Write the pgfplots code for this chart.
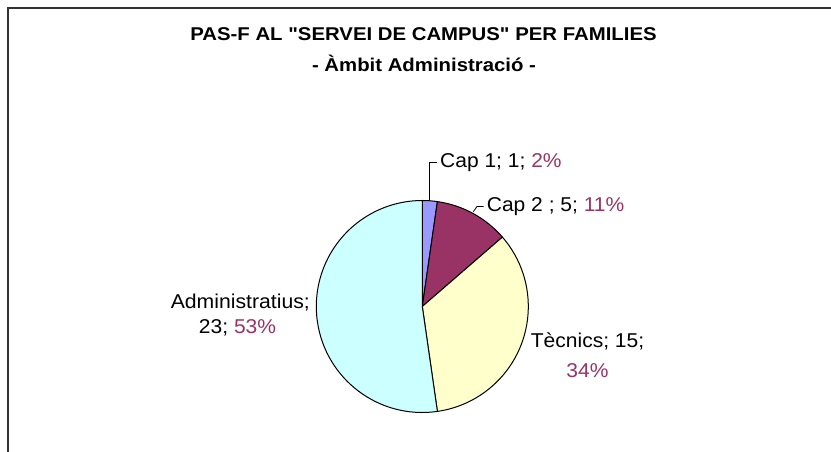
\documentclass[border=0pt]{standalone}
\usepackage{pgfplots}
\pgfplotsset{compat=1.18}
\usepackage{fontspec}
\setmainfont{Liberation Sans}[Ligatures=TeXOff]
\definecolor{c1}{HTML}{9999FF}
\definecolor{c2}{HTML}{993366}
\definecolor{c3}{HTML}{FFFFCC}
\definecolor{c4}{HTML}{CCFFFF}
\definecolor{pct}{HTML}{993366}
\definecolor{frame}{HTML}{333333}
% pie centre and radius (axis units = bp), total of the values
\def\cx{422.3}
\def\cy{145.5}
\def\rr{106}
\def\tot{44}
% #1 = sum of previous values, #2 = value, #3 = colour
\newcommand\slice[3]{%
  \filldraw[fill=#3, draw=black, line width=1bp, line join=round]
    (axis cs:\cx,\cy) --
    (axis cs:{\cx+\rr*cos(90-360*(#1)/\tot)},{\cy+\rr*sin(90-360*(#1)/\tot)})
    arc[start angle={90-360*(#1)/\tot}, end angle={90-360*(#1+#2)/\tot}, radius=\rr bp]
    -- cycle;}
\newcommand\ttl{\fontsize{18.5bp}{22bp}\selectfont\bfseries}
\newcommand\lab{\fontsize{20bp}{24bp}\selectfont}
\begin{document}
\begin{tikzpicture}
\begin{axis}[
  width=831bp, height=452bp, scale only axis,
  xmin=0, xmax=831, ymin=0, ymax=452,
  hide axis, clip=false,
]
\coordinate (BL) at (axis cs:0,0);
\coordinate (TR) at (axis cs:831,452);
% frame
\draw[frame, line width=1.6bp] (axis cs:8,0) -- (axis cs:8,444) -- (axis cs:831,444);
% slices: Cap 1 = 1, Cap 2 = 5, Tecnics = 15, Administratius = 23
\slice{0}{1}{c1}
\slice{1}{5}{c2}
\slice{6}{15}{c3}
\slice{21}{23}{c4}
% title
\node[anchor=base] at (axis cs:423.5,411) {\scalebox{1.10}[1]{\ttl PAS-F AL "SERVEI DE CAMPUS" PER FAMILIES}};
\node[anchor=base] at (axis cs:424,380) {\scalebox{1.10}[1]{\ttl - Àmbit Administració -}};
% leader lines
\draw[black, line width=0.8bp] (axis cs:429.3,251.3) -- (axis cs:429.3,289.3) -- (axis cs:436.7,289.3);
\draw[black, line width=0.8bp] (axis cs:473.3,240.3) -- (axis cs:477,245.5) -- (axis cs:483.5,245.5);
% data labels
\node[anchor=base west, inner sep=0pt] at (axis cs:440,284.3) {\scalebox{1.05}[1]{\lab Cap 1; 1; \textcolor{pct}{2\%}}};
\node[anchor=base west, inner sep=0pt] at (axis cs:486.7,240.5) {\scalebox{1.05}[1]{\lab Cap 2 ; 5; \textcolor{pct}{11\%}}};
\node[anchor=base west, inner sep=0pt] at (axis cs:530.7,104.7) {\scalebox{1.05}[1]{\lab Tècnics; 15;}};
\node[anchor=base, inner sep=0pt] at (axis cs:587.5,74.7) {\scalebox{1.05}[1]{\lab\color{pct}34\%}};
\node[anchor=base east, inner sep=0pt] at (axis cs:310,143.7) {\scalebox{1.06}[1]{\lab Administratius;}};
\node[anchor=base, inner sep=0pt] at (axis cs:237.5,118.7) {\scalebox{1.05}[1]{\lab 23; \textcolor{pct}{53\%}}};
\end{axis}
\pgfresetboundingbox
\useasboundingbox (BL) rectangle (TR);
\end{tikzpicture}
\end{document}
